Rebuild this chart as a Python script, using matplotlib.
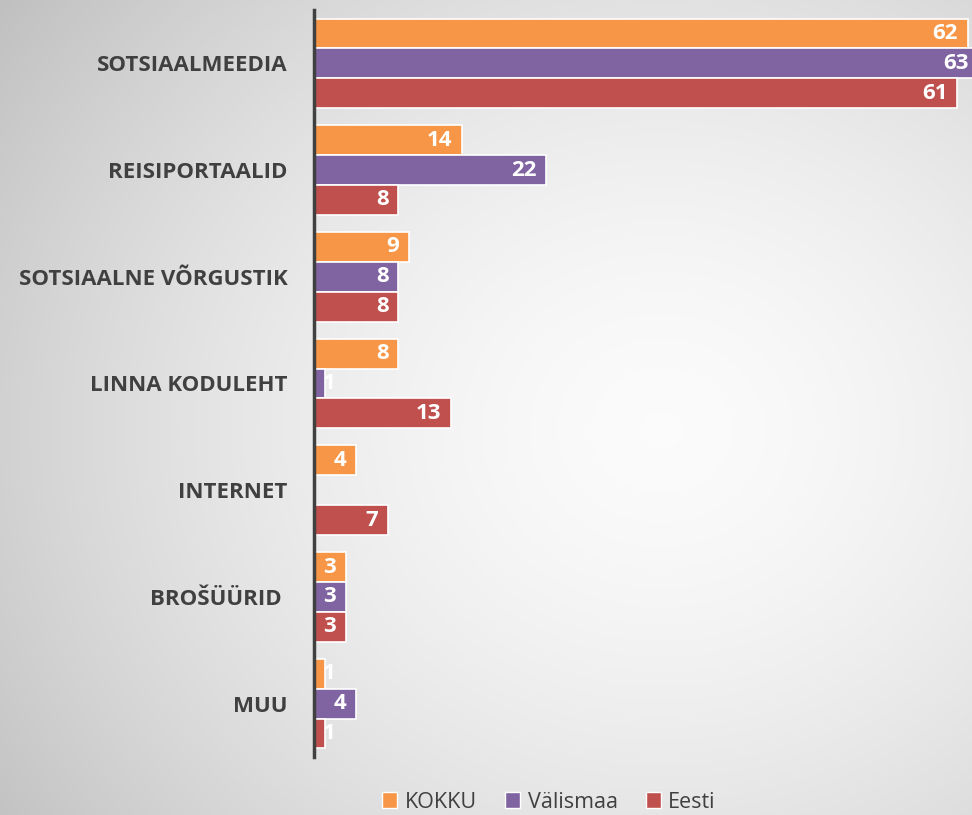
import numpy as np
import matplotlib

matplotlib.use("Agg")
import matplotlib.pyplot as plt
from matplotlib.patches import Patch

categories = ["SOTSIAALMEEDIA", "REISIPORTAALID", "SOTSIAALNE VÕRGUSTIK",
              "LINNA KODULEHT", "INTERNET", "BROŠÜÜRID ", "MUU"]
series_names = ["KOKKU", "Välismaa", "Eesti"]
kokku = [62, 14, 9, 8, 4, 3, 1]
valismaa = [63, 22, 8, 1, 0, 3, 4]
eesti = [61, 8, 8, 13, 7, 3, 1]
colors = ["#F79646", "#8064A2", "#C0504D"]

text_color = "#404040"
plt.rcParams["font.family"] = ["Open Sans", "DejaVu Sans"]

fig = plt.figure(figsize=(9.72, 8.15), dpi=100)

# radial grey background (rgb array, no colormap banding)
bg = fig.add_axes([0, 0, 1, 1], zorder=-10)
yy, xx = np.mgrid[0:815, 0:972]
r = np.sqrt(((xx - 660) / 720.0) ** 2 + ((yy - 430) / 640.0) ** 2)
shade = np.clip(0.985 - 0.19 * r ** 1.6, 0, 1)
bg.imshow(np.dstack([shade] * 3), aspect="auto", interpolation="bilinear")
bg.axis("off")

ax = fig.add_axes([314 / 972, 58 / 815, 658 / 972, 747 / 815])
ax.patch.set_alpha(0)

y = np.arange(len(categories))
h = 0.28
for k, vals in enumerate([kokku, valismaa, eesti]):
    pos = y + (k - 1) * h
    ax.barh(pos, vals, height=h, color=colors[k], edgecolor="white",
            linewidth=1.2, clip_on=False)
    for p, v in zip(pos, vals):
        if v == 0:
            continue
        if v >= 3:
            ax.annotate(str(v), (v, p), xytext=(-7, 0), textcoords="offset points",
                        ha="right", va="center", color="white", fontsize=16,
                        fontweight="bold", annotation_clip=False)
        else:
            ax.annotate(str(v), (0, p), xytext=(6, 0), textcoords="offset points",
                        ha="left", va="center", color="white", fontsize=16,
                        fontweight="bold", annotation_clip=False)

ax.set_xlim(0, 62.4)
ax.set_ylim(6.5, -0.5)
ax.set_yticks(y)
ax.set_yticklabels(categories, fontsize=16, fontweight="bold", color=text_color)
ax.tick_params(axis="y", length=0, pad=19)
ax.set_xticks([])
for s in ["top", "right", "bottom"]:
    ax.spines[s].set_visible(False)
ax.spines["left"].set_color(text_color)
ax.spines["left"].set_linewidth(2.5)

handles = [Patch(facecolor=c, edgecolor="white", label=n)
           for c, n in zip(colors, series_names)]
leg = fig.legend(handles=handles, loc="center", bbox_to_anchor=(549 / 972, 13 / 815),
                 ncol=3, frameon=False, fontsize=15.5, handlelength=0.7,
                 handleheight=0.7, handletextpad=0.35, columnspacing=1.3)
for t in leg.get_texts():
    t.set_color(text_color)

fig.savefig("out.png", dpi=100)
